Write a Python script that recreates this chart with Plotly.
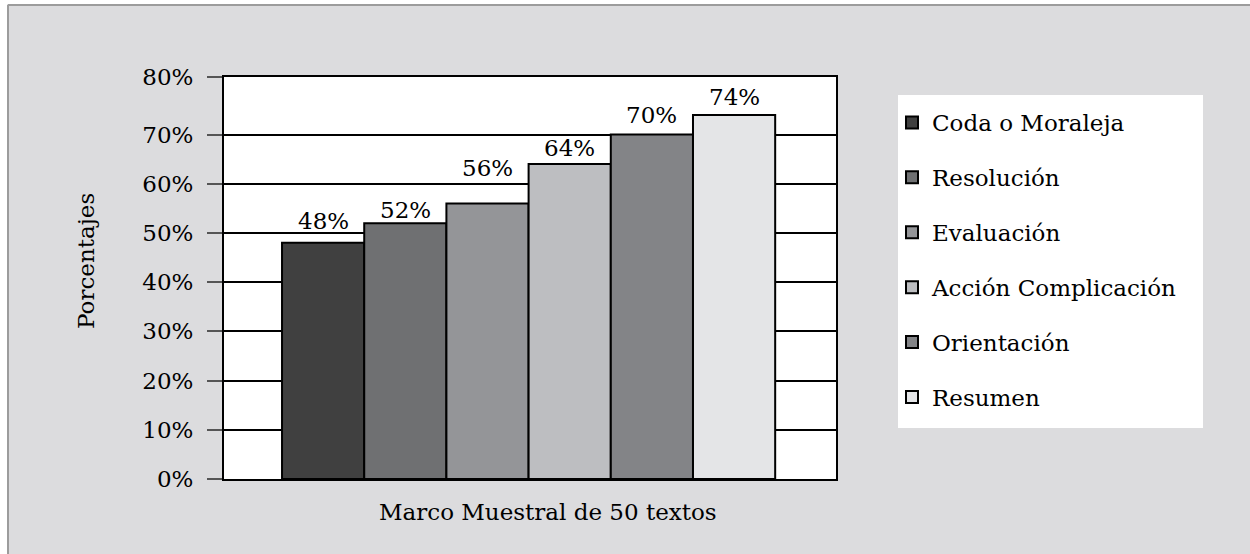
import plotly.graph_objects as go

# ---- data ----
series_names = ["Coda o Moraleja", "Resolución", "Evaluación",
                "Acción Complicación", "Orientación", "Resumen"]
series_values = [48, 52, 56, 64, 70, 74]
series_colors = ["#404040", "#6f7072", "#949598", "#bdbec1", "#838487", "#e4e5e7"]
category = "Marco Muestral de 50 textos"
tick_values = [0, 10, 20, 30, 40, 50, 60, 70, 81.7]
tick_labels = ["0%", "10%", "20%", "30%", "40%", "50%", "60%", "70%", "80%"]
y_title = "Porcentajes"

# label placement (pixel offsets above each bar, as in the original)
label_yshift = [7, -2, 20, 1, 5, 3]

W, H = 1250, 554
L, R, T, B = 224, 836, 77, 479
FONT = "DejaVu Serif"
FS = 23

def px_x(p):
    return (p - L) / (R - L)

def px_y(p):
    return (B - p) / (B - T)

fig = go.Figure()
for i, (name, val, col) in enumerate(zip(series_names, series_values, series_colors)):
    fig.add_trace(go.Bar(
        x=[i], y=[val], name=name, legendgroup=name, width=1,
        marker=dict(color=col, line=dict(color="black", width=2)),
        hovertemplate=f"{category}<br>{name}: %{{y}}%<extra></extra>",
    ))

annotations = [
    dict(text=f"{val}%", x=i, y=val, xref="x", yref="y", showarrow=False,
         yanchor="bottom", yshift=label_yshift[i], font=dict(family=FONT, size=FS, color="black"))
    for i, val in enumerate(series_values)
]
annotations.append(dict(text=y_title, xref="paper", yref="paper", x=px_x(86), y=px_y(261),
                        xanchor="center", yanchor="middle",
                        showarrow=False, textangle=-90,
                        font=dict(family=FONT, size=FS, color="black")))
annotations.append(dict(text=category, xref="paper", yref="paper", x=px_x(548), y=px_y(512),
                        xanchor="center", yanchor="middle", showarrow=False,
                        font=dict(family=FONT, size=FS, color="black")))

shapes = [
    # white strips at top/left edge
    dict(type="rect", xref="paper", yref="paper", x0=px_x(-20), x1=px_x(7),
         y0=px_y(600), y1=px_y(-20), fillcolor="white", line=dict(width=0), layer="below"),
    dict(type="rect", xref="paper", yref="paper", x0=px_x(-20), x1=px_x(1300),
         y0=px_y(4), y1=px_y(-20), fillcolor="white", line=dict(width=0), layer="below"),
    # gray border lines
    dict(type="line", xref="paper", yref="paper", x0=px_x(8), x1=px_x(8),
         y0=px_y(600), y1=px_y(5), line=dict(color="#9c9c9c", width=2), layer="below"),
    dict(type="line", xref="paper", yref="paper", x0=px_x(8), x1=px_x(1300),
         y0=px_y(5), y1=px_y(5), line=dict(color="#9c9c9c", width=2), layer="below"),
    # legend white box
    dict(type="rect", xref="paper", yref="paper", x0=px_x(898), x1=px_x(1203),
         y0=px_y(428), y1=px_y(95), fillcolor="white", line=dict(width=0), layer="below"),
]

fig.update_layout(
    width=W, height=H,
    margin=dict(l=L, r=W - R, t=T, b=H - B, pad=0),
    paper_bgcolor="#dcdcde", plot_bgcolor="white",
    barmode="overlay",
    font=dict(family=FONT, size=FS, color="black"),
    showlegend=True,
    legend=dict(x=px_x(892), y=px_y(101), xanchor="left", yanchor="top",
                bgcolor="rgba(0,0,0,0)", traceorder="grouped", tracegroupgap=22,
                font=dict(family=FONT, size=FS, color="black")),
    shapes=shapes,
    annotations=annotations,
)
fig.update_xaxes(range=[-1.206, 6.24], showticklabels=False, ticks="", showgrid=False,
                 zeroline=False, showline=True, mirror=True,
                 linecolor="black", linewidth=2)
fig.update_yaxes(range=[0, 81.7], tickvals=tick_values, ticktext=tick_labels,
                 ticks="outside", ticklen=15, tickcolor="#555555", tickwidth=1.5,
                 ticklabelstandoff=9,
                 showgrid=True, gridcolor="black", gridwidth=1.5,
                 showline=True, mirror=True, linecolor="black", linewidth=2, zeroline=False)

fig.write_html("out.html")
